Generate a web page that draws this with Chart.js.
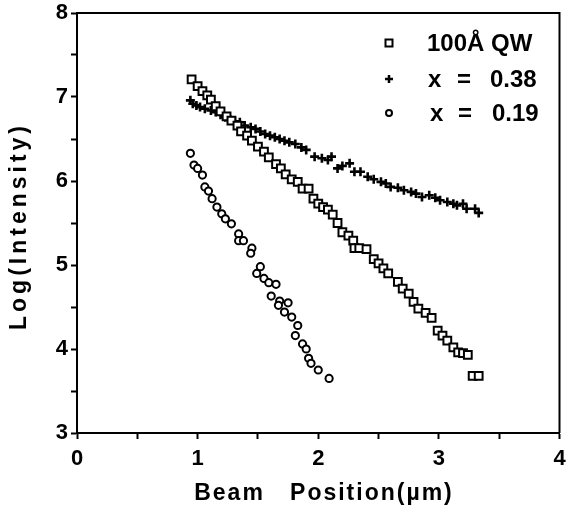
<!DOCTYPE html>
<html>
<head>
<meta charset="utf-8">
<script src="https://cdn.jsdelivr.net/npm/chart.js"></script>
<style>
  body { margin: 0; background: #fff; }
</style>
</head>
<body>
<canvas id="myChart" width="567" height="508"></canvas>
<script>
// 100A QW (squares)
const qwX = [0.95,1.00,1.04,1.08,1.11,1.15,1.19,1.24,1.28,1.33,1.36,1.41,1.45,1.50,1.55,1.59,1.65,1.69,1.73,1.78,1.83,1.87,1.92,1.96,2.00,2.04,2.08,2.12,2.16,2.20,2.25,2.29,2.30,2.34,2.40,2.46,2.50,2.54,2.58,2.66,2.70,2.75,2.79,2.83,2.89,2.94,2.99,3.03,3.07,3.12,3.16,3.20,3.24,3.28,3.33];
const qwY = [7.21,7.13,7.07,7.02,6.97,6.89,6.83,6.77,6.72,6.66,6.59,6.54,6.48,6.41,6.35,6.28,6.20,6.15,6.08,6.02,5.99,5.91,5.91,5.79,5.73,5.69,5.66,5.60,5.50,5.39,5.35,5.29,5.20,5.20,5.19,5.07,5.02,4.96,4.90,4.80,4.72,4.66,4.56,4.48,4.43,4.37,4.22,4.16,4.10,4.02,3.96,3.95,3.93,3.68,3.68];
// x = 0.38 (crosses)
const x38X = [0.94,0.96,0.99,1.02,1.06,1.11,1.15,1.19,1.23,1.27,1.31,1.35,1.39,1.44,1.48,1.52,1.56,1.60,1.64,1.68,1.72,1.76,1.81,1.86,1.90,1.97,2.03,2.08,2.11,2.16,2.20,2.26,2.30,2.35,2.41,2.46,2.52,2.56,2.60,2.66,2.71,2.77,2.81,2.86,2.92,2.97,3.01,3.07,3.12,3.15,3.20,3.23,3.30,3.33];
const x38Y = [6.96,6.92,6.90,6.88,6.86,6.84,6.82,6.79,6.76,6.73,6.71,6.70,6.66,6.64,6.62,6.59,6.56,6.54,6.52,6.50,6.48,6.46,6.44,6.40,6.37,6.29,6.27,6.25,6.29,6.15,6.18,6.21,6.11,6.11,6.05,6.02,5.99,5.97,5.93,5.92,5.89,5.87,5.85,5.81,5.83,5.80,5.77,5.75,5.73,5.71,5.73,5.67,5.67,5.62];
// x = 0.19 (circles)
const x19X = [0.94,0.97,1.00,1.04,1.06,1.09,1.12,1.16,1.20,1.23,1.28,1.34,1.34,1.38,1.45,1.44,1.52,1.49,1.55,1.59,1.65,1.61,1.68,1.75,1.67,1.72,1.78,1.83,1.81,1.87,1.90,1.92,1.94,2.00,2.09];
const x19Y = [6.33,6.19,6.15,6.07,5.93,5.88,5.79,5.69,5.61,5.55,5.49,5.37,5.29,5.29,5.20,5.14,4.98,4.90,4.84,4.79,4.77,4.63,4.57,4.55,4.52,4.44,4.38,4.28,4.16,4.06,4.00,3.89,3.83,3.75,3.65];

const xTitle = "Beam   Position(\u00b5m)";
const yTitle = "Log(Intensity)";
const legendRows = [
  ["100\u00c5 QW"],
  ["x", "=", "0.38"],
  ["x", "=", "0.19"],
];

const FONT = '"Liberation Sans", Arial, sans-serif';
const pts = (xs, ys) => xs.map((x, i) => ({ x, y: ys[i] }));

function symbol(ctx, style, x, y) {
  ctx.beginPath();
  if (style === "rect") {
    ctx.rect(x - 3.5, y - 3.5, 7, 7);
    ctx.fill();
  } else if (style === "cross") {
    ctx.lineWidth = 2.5;
    ctx.moveTo(x - 4, y); ctx.lineTo(x + 4, y);
    ctx.moveTo(x, y - 4); ctx.lineTo(x, y + 4);
  } else {
    ctx.arc(x, y, 3, 0, Math.PI * 2);
    ctx.fill();
  }
  ctx.stroke();
  ctx.lineWidth = 2;
}

const extras = {
  id: "extras",
  afterDraw(chart) {
    const { ctx, chartArea: a } = chart;
    ctx.save();
    // top and right frame
    ctx.strokeStyle = "#000";
    ctx.lineWidth = 2;
    ctx.beginPath();
    ctx.moveTo(a.left, a.top);
    ctx.lineTo(a.right, a.top);
    ctx.lineTo(a.right, a.bottom);
    ctx.stroke();

    // axis titles
    ctx.fillStyle = "#000";
    ctx.textBaseline = "middle";
    ctx.textAlign = "center";
    ctx.font = "bold 23px " + FONT;
    ctx.letterSpacing = "2px";
    ctx.fillText(xTitle, 324, 494);
    ctx.save();
    ctx.translate(20, 226);
    ctx.rotate(-Math.PI / 2);
    ctx.letterSpacing = "4px";
    ctx.fillText(yTitle, 0, 0);
    ctx.restore();
    ctx.letterSpacing = "0px";

    // legend
    const styles = ["rect", "cross", "circle"];
    const rowY = [44, 80, 114];
    const cols = [[427], [428, 457, 490], [430, 458, 492]];
    ctx.font = "bold 24px " + FONT;
    ctx.textAlign = "left";
    ctx.lineWidth = 2;
    legendRows.forEach((parts, i) => {
      ctx.fillStyle = "#fff";
      symbol(ctx, styles[i], 389, rowY[i] - 1);
      ctx.fillStyle = "#000";
      parts.forEach((p, j) => ctx.fillText(p, cols[i][j], rowY[i]));
    });
    ctx.restore();
  },
};

const tickFont = { family: FONT, size: 22, weight: "bold" };
const grid = {
  drawOnChartArea: false,
  drawTicks: true,
  tickLength: 6,
  tickWidth: 2,
  tickColor: "#000",
};
const border = { display: true, width: 2, color: "#000" };
const intLabel = (v) => (Number.isInteger(v) ? v : "");

const config = {
  type: "scatter",
  data: {
    datasets: [
      {
        label: "100\u00c5 QW",
        data: pts(qwX, qwY),
        pointStyle: "rect",
        pointRadius: 5.5,
        pointBorderWidth: 2,
        pointBackgroundColor: "#fff",
        pointBorderColor: "#000",
      },
      {
        label: "x = 0.38",
        data: pts(x38X, x38Y),
        pointStyle: "cross",
        pointRadius: 4.5,
        pointBorderWidth: 2.6,
        pointBorderColor: "#000",
      },
      {
        label: "x = 0.19",
        data: pts(x19X, x19Y),
        pointStyle: "circle",
        pointRadius: 3.6,
        pointBorderWidth: 2,
        pointBackgroundColor: "#fff",
        pointBorderColor: "#000",
      },
    ],
  },
  options: {
    responsive: false,
    animation: false,
    layout: { padding: { top: 13, right: 2, left: 0, bottom: 0 } },
    plugins: { legend: { display: false }, tooltip: { enabled: false } },
    scales: {
      x: {
        type: "linear",
        min: 0,
        max: 4,
        ticks: {
          stepSize: 0.5,
          autoSkip: false,
          maxRotation: 0,
          padding: 7,
          color: "#000",
          font: tickFont,
          callback: intLabel,
        },
        grid,
        border,
        afterFit(s) {
          s.height = 75;
          s.paddingLeft = 0;
          s.paddingRight = 0;
        },
      },
      y: {
        type: "linear",
        min: 3,
        max: 8,
        ticks: {
          stepSize: 0.5,
          autoSkip: false,
          padding: 3,
          color: "#000",
          font: tickFont,
          callback: intLabel,
        },
        grid,
        border,
        afterFit(s) {
          s.width = 77;
          s.paddingTop = 0;
          s.paddingBottom = 0;
        },
      },
    },
  },
  plugins: [extras],
};

var myChart = new Chart(document.getElementById("myChart"), config);
</script>
</body>
</html>
